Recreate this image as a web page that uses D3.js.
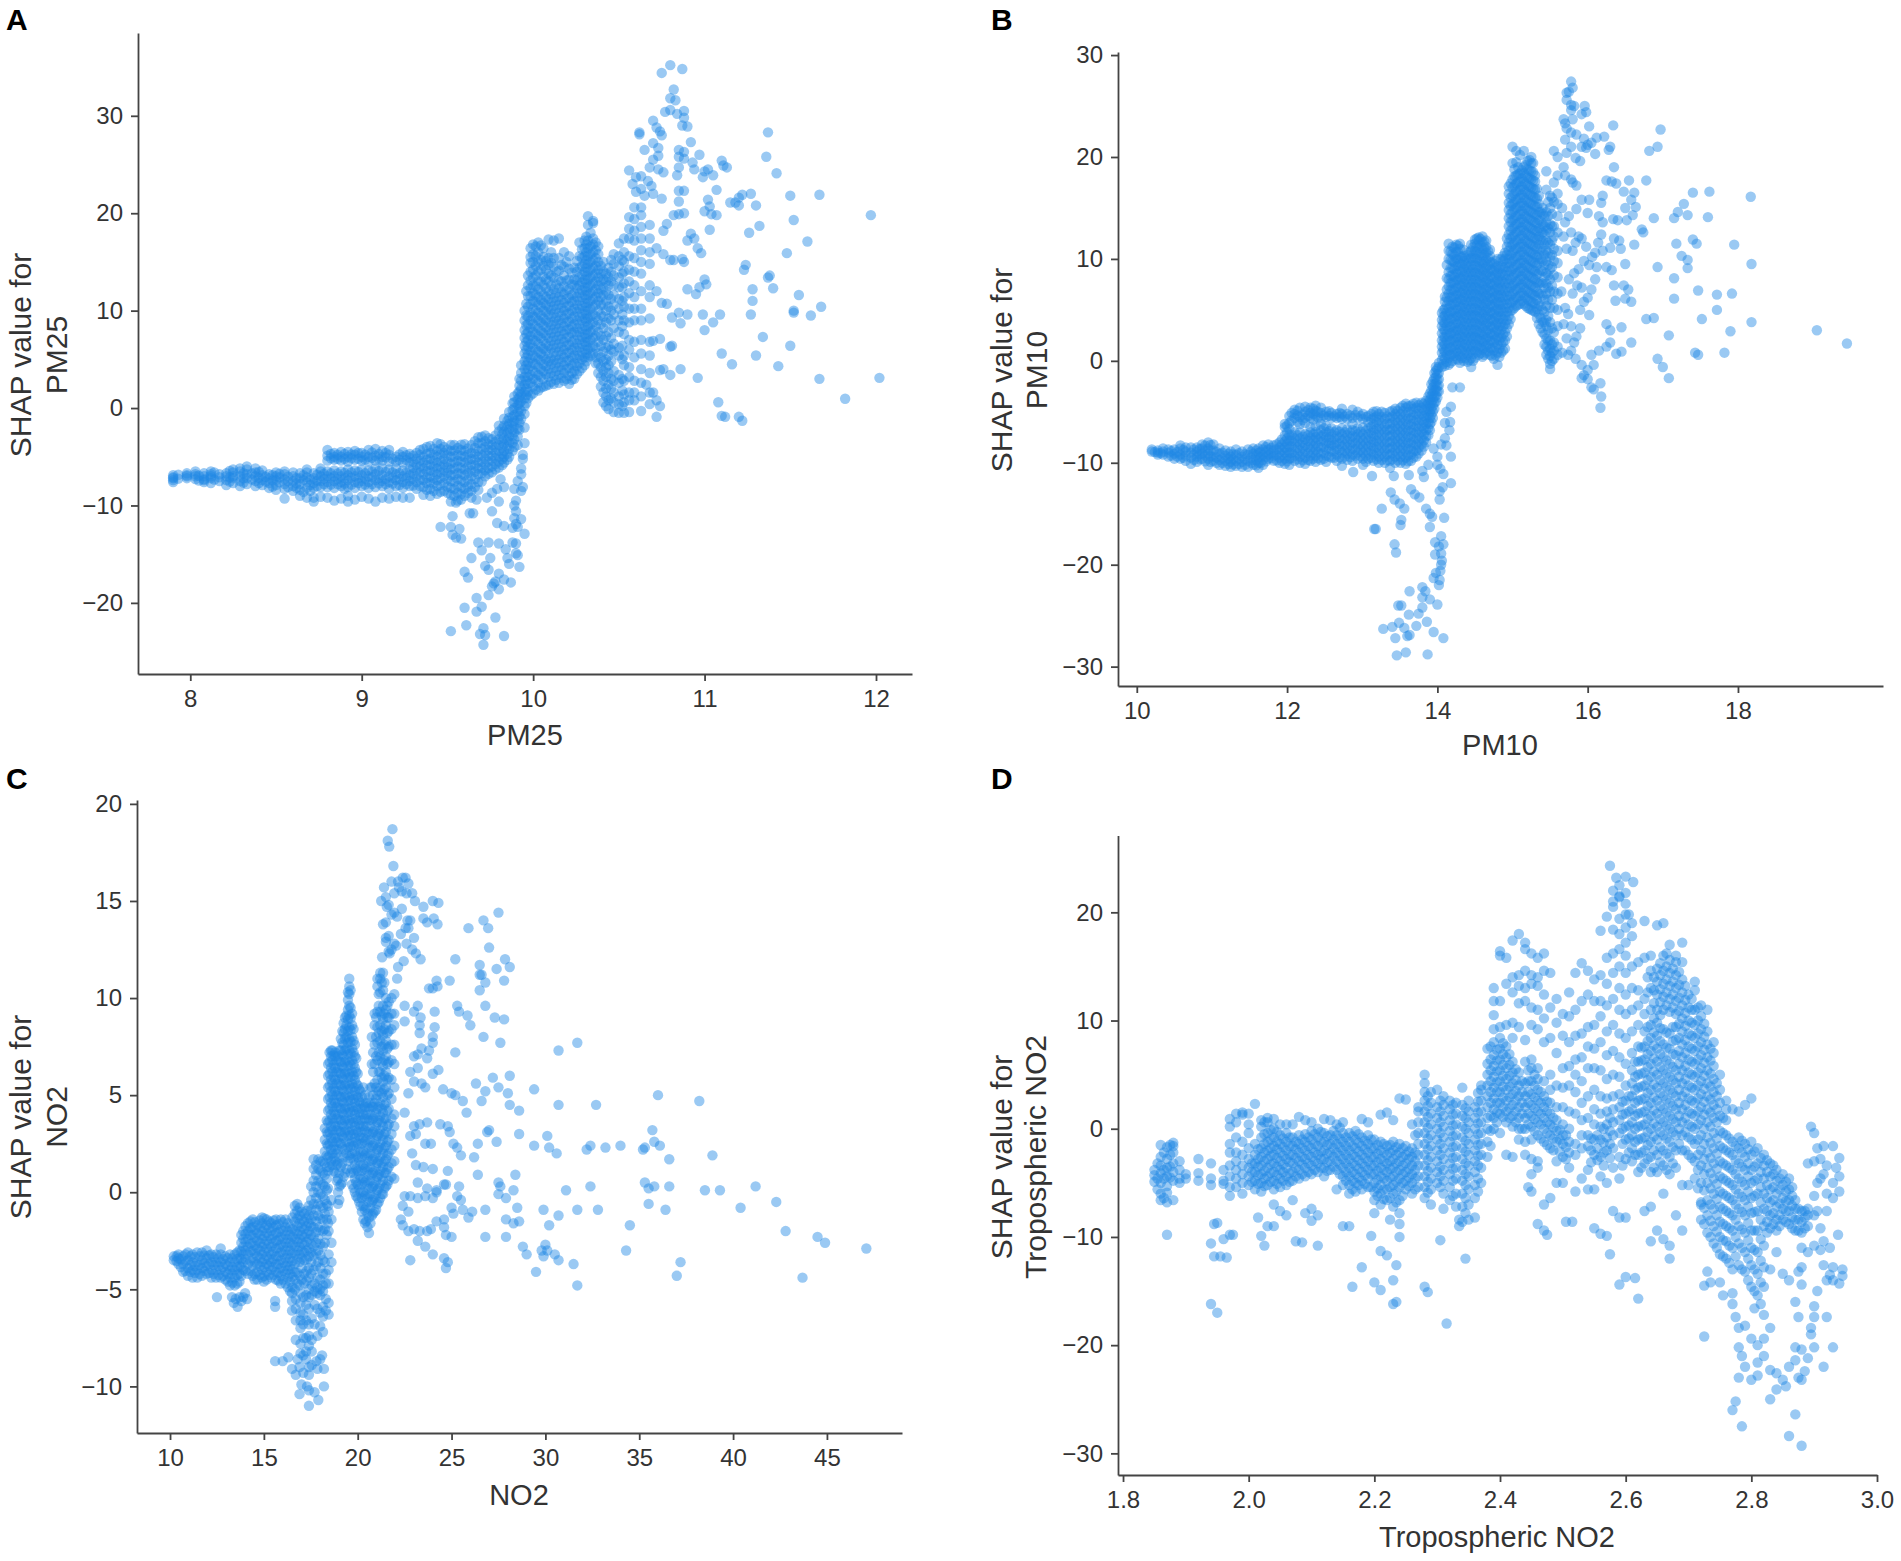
<!DOCTYPE html>
<html>
<head>
<meta charset="utf-8">
<script src="https://cdn.jsdelivr.net/npm/d3@7"></script>
<style>
	html, body { margin: 0; padding: 0; background: #fff; }
	svg { display: block; }
	text { font-family: "Liberation Sans", Arial, sans-serif; fill: #333; }
</style>
</head>
<body>
<svg id="chart" width="1901" height="1561"></svg>
<script>
// every dense row is [x, y, y, y...]

var pm25Dense = [
	[7.9,-7.4,-7.1,-6.9,-7.2,-7.6],[7.98,-7.2,-6.9,-6.7,-7],[8.03,-7.3,-6.8,-7,-6.5],[8.08,-7.6,-7.3,-7,-6.7,-7.4],
	[8.12,-7.7,-7.2,-6.8,-6.5,-7],[8.17,-7.5,-7.1,-6.8],[8.21,-7.9,-7.4,-7,-6.7],[8.25,-7.7,-7.2,-6.6,-6.3,-7],
	[8.29,-8,-7.5,-7,-6.5,-6.2],[8.33,-7.8,-7.2,-6.8,-6.3,-6],[8.38,-8,-7.5,-7,-6.6,-6.2],[8.42,-7.9,-7.4,-6.9,-6.4],
	[8.46,-8.2,-7.7,-7.2,-6.8],[8.5,-8.4,-7.9,-7.4,-7,-6.6],[8.55,-9.3,-8.3,-7.8,-7.3,-6.8,-6.5],[8.6,-8.5,-8,-7.5,-7,-6.6],
	[8.64,-9,-8.4,-7.8,-7.2,-6.7],[8.68,-9.2,-8.2,-7.6,-7.1,-6.6,-6.3],[8.72,-9.6,-9.2,-8.2,-7.7,-7.2,-6.7],[8.76,-9.1,-8.1,-7.5,-7,-6.5,-6.2],
	[8.8,-9.2,-8.1,-7.6,-7,-6.5,-5.4,-4.9,-4.3],[8.84,-9.5,-8.2,-7.5,-7,-6.4,-5.3,-5,-4.6],[8.88,-9.3,-8,-7.6,-7,-6.5,-5.4,-5,-4.5],[8.92,-9.6,-9,-8.1,-7.4,-6.9,-6.3,-5.5,-5,-4.5],
	[8.96,-9.4,-8.2,-7.6,-7,-6.4,-5.3,-4.8,-4.4],[9,-9.1,-8,-7.5,-6.9,-6.3,-5.4,-5,-4.6],[9.04,-9.3,-8.2,-7.6,-7,-6.4,-5.5,-5,-4.3],[9.08,-9.6,-8.1,-7.4,-6.8,-6.2,-5.4,-4.9,-4.2],
	[9.12,-9.2,-8,-7.5,-6.9,-6.2,-5.4,-5,-4.4],[9.16,-9.3,-8.3,-7.6,-7,-6.3,-5.5,-4.8,-4.3],[9.2,-9.1,-8,-7.4,-6.8,-6.2,-5.5,-5],[9.24,-9.2,-8.2,-7.6,-7,-6.4,-5.6,-5,-4.5],
	[9.28,-9.2,-8,-7.5,-6.9,-6.3,-5.6,-5.1,-4.7],[9.32,-8.3,-7.6,-7,-6.4,-5.8,-5.2,-4.6],[9.36,-8.9,-8.1,-7.4,-6.8,-6.2,-5.6,-5,-4.2],[9.4,-9,-8.3,-7.6,-7,-6.4,-5.8,-5.2,-4.6,-3.9],
	[9.44,-8.8,-8,-7.4,-6.8,-6.2,-5.6,-5,-4.4,-3.6],[9.48,-8.5,-7.7,-7,-6.4,-5.8,-5.2,-4.6,-4],[9.52,-9.6,-8.9,-8.2,-7.5,-6.9,-6.3,-5.7,-5,-4.4,-3.8],[9.56,-9.5,-8.7,-8,-7.3,-6.7,-6,-5.4,-4.8,-4.1],
	[9.6,-9,-8.3,-7.6,-6.9,-6.3,-5.6,-5,-4.4,-3.7],[9.64,-9.2,-8.5,-7.8,-7,-6.4,-5.8,-5.2,-4.6,-3.8],[9.68,-8.4,-7.6,-6.8,-6.2,-5.6,-5,-4.4,-3.6,-3],[9.72,-7,-6.4,-5.8,-5.2,-4.6,-4,-3.4,-2.8],
	[9.76,-6.6,-6,-5.4,-4.9,-4.3,-3.8,-3.2],[9.8,-6.1,-5.5,-5,-4.4,-3.8,-3.2,-2.4,-1.8],[9.83,-5.6,-5,-4.4,-3.7,-3.1,-2.4,-1.8,-1.1],[9.86,-5,-4.2,-3.5,-2.9,-2.2,-1.6,-1,-0.4],
	[9.89,-4,-3.2,-2.5,-1.9,-1.3,-0.7,0,0.6,1.2],[9.92,-2.2,-1.5,-0.8,-0.1,0.5,1.1,1.7,2.3,3],[9.95,-0.6,0.2,1,1.7,2.4,3.2,4,4.8,5.6,6.4,7.2,8,9,10],
	[9.97,1,1.7,2.5,3.2,4,4.7,5.5,6.3,7,7.8,8.6,9.4,10.4,11.5,12.6,13.6],[10,1.5,2.2,3,3.8,4.6,5.4,6.2,7,7.8,8.6,9.4,10.2,11,11.8,12.6,13.4,14.2,15,15.8,16.8],
	[10.03,1.8,2.6,3.4,4.2,5,5.8,6.6,7.4,8.2,9,9.8,10.6,11.4,12.2,13,14,15,16,17],[10.06,2.2,3,3.8,4.5,5.3,6.1,6.9,7.7,8.5,9.2,10,10.8,11.6,12.6,13.5,14.6,15.5,16.4],
	[10.09,2.4,3.2,4,4.8,5.6,6.4,7.2,8,8.8,9.6,10.4,11.2,12,13,13.8,14.7,15.4,17.3],[10.12,2.5,3.3,4.1,4.9,5.7,6.5,7.3,8.1,8.9,9.7,10.5,11.3,12.2,13.4,14.5,15.4,17.2],
	[10.15,2.6,3.4,4.2,5,5.8,6.6,7.4,8.2,9,9.8,10.6,11.4,12.3,13.1,14.1,15.4,17.4],[10.18,2.8,3.6,4.4,5.2,6,6.8,7.6,8.4,9.2,10,10.8,11.7,12.5,13.6,14.5,16],
	[10.21,2.5,3.3,4.1,4.9,5.7,6.5,7.3,8.1,8.9,9.7,10.5,11.3,12.2,13.2,14.3,15.6],[10.24,3,3.8,4.6,5.4,6.2,7,7.8,8.6,9.4,10.2,11,11.8,12.6,13.2,14.4],
	[10.27,3.8,4.6,5.4,6.2,7,7.8,8.6,9.4,10.2,11,11.8,12.6,13.4,14.4,15.6,17],[10.3,4.4,5.2,6,6.8,7.6,8.4,9.2,10,10.8,11.6,12.4,13.2,14,14.8,15.6,16.4,17.2],
	[10.32,5.2,6,6.8,7.6,8.4,9.2,10,10.8,11.6,12.4,13.2,14,14.8,15.6,16.4,17.2,18.8,19.7],[10.35,5.6,6.4,7.2,8,8.8,9.6,10.4,11.2,12,12.8,13.6,14.4,15.2,16,16.8,17.4,19,19.2],
	[10.38,3.6,4.6,5.6,6.8,7.8,9,10,11,11.8,12.6,13.4,14.2,15,15.8,16.6],[10.41,0.6,1.6,2.8,3.8,4.8,5.8,7,8.2,9.4,10.6,11.6,12.4,13.2,14,15],
	[10.44,-0.1,0.8,2.4,3.6,4.4,5.4,6.4,7.8,9.2,10.4,11.6,12.6,13.4,14.4],[10.47,-0.4,0.6,1.6,2.8,3.8,5.8,6.6,8.2,9.6,10.6,11.6,12.6,13.6,14.8,15.8],
	[10.5,-0.5,0.4,1.2,2.6,3.4,5.4,6.2,7.8,9,10.2,11.2,12.4,13.4,14.6,15.6,16.9],[10.53,-0.5,0.6,1.4,2.8,4.4,5.4,7.6,9,10.4,11.4,12.8,14,15,16,17.4],
	[10.56,-0.4,0.8,1.6,3.2,4.2,6,7,8.8,10.2,11.8,13,14.2,15.6,17.4,18.4,19.6],[10.59,0.8,1.6,2.8,5.2,6.8,9,10.2,11.4,12.6,14,15.4,17.2,18.2,19.4,20.6],
	[10.63,-0.3,1.2,2.6,4,5.6,7,9,10.2,12,13.8,15,16.2,17.4,18.6,19.8,20.6],[10.68,0.4,1.6,3.6,5.4,6.8,9.2,11.4,12.6,14.8,16,17.4,18.8]
];
// second pass over the solid parts of the cloud, between the rows above
var pm25Fill = [
	[7.93,-7.25,-6.85],[8.05,-7.45,-6.95],[8.14,-7.35,-6.62],[8.23,-7.55,-7.1,-6.45],[8.31,-7.66,-7.22,-6.7],[8.36,-7.33,-6.72],[8.4,-7.7,-7.15,-6.55],[8.44,-7.55,-7.05],[8.48,-8.05,-7.43,-6.9],[8.52,-7.62,-7.12,-6.75],[8.57,-8.1,-7.52,-7.05],[8.62,-8.2,-7.72,-7.2],
	[8.66,-8.6,-7.4,-6.9],[8.7,-8.5,-7.9,-7.32],[8.74,-8.02,-7.45,-6.85],[8.78,-7.8,-7.25,-6.75],[8.82,-7.85,-7.2,-6.7,-5.15,-4.7],[8.86,-7.8,-7.3,-6.72,-5.2,-4.8],[8.9,-8.3,-7.75,-7.2,-6.65,-5.2,-4.7],[8.94,-7.85,-7.15,-6.6,-5.15,-4.75],[8.98,-7.7,-7.22,-6.55,-5.22,-4.62],[9.02,-7.85,-7.25,-6.7,-5.3,-4.8],
	[9.06,-7.8,-7.12,-6.5,-5.1,-4.55],[9.1,-7.72,-7.2,-6.45,-5.25,-4.7],[9.14,-7.8,-7.3,-6.55,-5.05,-4.6],[9.18,-7.75,-7.15,-6.6,-5.2],[9.22,-7.9,-7.28,-6.7,-5.3,-4.75],[9.26,-7.8,-7.2,-6.62,-5.35,-4.85],[9.3,-7.95,-7.3,-6.72,-6.1,-5.5,-4.9],[9.34,-8,-7.35,-6.6,-6,-5.4,-4.8,-4.3],[9.38,-8.4,-7.7,-7.15,-6.5,-5.9,-5.3,-4.7,-4],
	[9.42,-8.5,-7.75,-7.2,-6.55,-6,-5.4,-4.8,-4.2],[9.46,-8.6,-7.9,-7.2,-6.6,-6,-5.45,-4.75,-4.2,-3.7],[9.5,-8.7,-8.05,-7.3,-6.65,-6.1,-5.5,-4.85,-4.25],[9.54,-9,-8.3,-7.55,-6.85,-6.2,-5.55,-4.95,-4.35,-3.8],[9.58,-8.85,-8.15,-7.45,-6.75,-6.15,-5.5,-4.9,-4.3,-3.75],[9.62,-8.7,-8.05,-7.35,-6.65,-6,-5.35,-4.75,-4.15],[9.66,-8.1,-7.3,-6.55,-5.9,-5.3,-4.7,-4.1,-3.4],
	[9.7,-7.55,-6.7,-6.1,-5.5,-4.85,-4.2,-3.6,-2.95],[9.74,-6.75,-6.15,-5.5,-4.9,-4.3,-3.7,-3.1],[9.78,-6.3,-5.75,-5.15,-4.55,-4,-3.45,-2.8],[9.82,-5.85,-5.25,-4.7,-4.05,-3.4,-2.7,-2.1],[9.85,-5.3,-4.7,-3.95,-3.25,-2.55,-1.9,-1.3],[9.88,-4.4,-3.6,-2.9,-2.2,-1.5,-0.9,-0.2,0.5],[9.91,-2.9,-2.1,-1.2,-0.4,0.3,0.9,1.5],[9.93,-1.1,-0.3,0.7,1.4,2,2.8,3.6,4.4],[9.96,0.5,1.35,2,2.8,3.6,4.4,5.2,6,6.8,7.6,8.5,9.5,10.7,12],
	[9.985,1.3,2.6,3.4,4.3,5.1,5.9,6.6,7.4,8.2,9,9.8,10.7,11.5,12.3,13.1,14,14.9,15.5,16.4],[10.015,1.9,2.9,3.6,4.5,5.2,6,6.9,7.6,8.4,9.3,10,10.9,11.6,12.5,13.6,14.6,15.6,16.6],[10.045,2.1,3.2,4,4.9,5.6,6.3,7.2,7.9,8.8,9.5,10.4,11.1,12,13,14.2,15.2,16.7],[10.075,2.3,3.5,4.3,5,5.9,6.6,7.5,8.3,9,9.9,10.6,11.4,12.3,13.2,14.2,15.1],
	[10.105,2.7,3.6,4.5,5.1,6.1,6.9,7.7,8.5,9.4,10.1,10.9,11.7,12.6,13.6,14.9,16],[10.135,2.9,3.8,4.6,5.4,6.2,7,7.8,8.6,9.3,10.2,11,11.8,12.7,14],[10.165,3.1,3.9,4.7,5.5,6.3,7.1,7.9,8.7,9.5,10.3,11.1,11.9,13,14.7],[10.195,3,4,4.8,5.6,6.4,7.2,8,8.8,9.6,10.4,11.2,12.1,13.1,15],
	[10.225,2.9,3.6,4.4,5.2,6,6.8,7.7,8.4,9.2,10,10.9,11.6,12.7,13.9],[10.255,3.5,4.3,5.1,5.9,6.6,7.5,8.2,9,9.9,10.6,11.4,12.3,13.1,14,15.1],[10.285,4.1,5,5.7,6.6,7.3,8.1,9,9.7,10.5,11.4,12.1,12.9,13.7,14.6,15.4,16.3],[10.31,4.8,5.6,6.4,7.2,8,8.9,9.6,10.4,11.2,12,12.8,13.6,14.4,15.2,16,16.8,17.6],[10.335,5.4,6.2,7,7.8,8.6,9.4,10.2,11,11.8,12.6,13.4,14.2,15,15.8,16.6,18],
	[10.365,4.6,5.2,6.2,7.4,8.4,9.4,10.6,11.4,12.2,13,13.8,14.6,15.4,16.2,17],[10.395,2.2,3.2,4.2,5.2,6.4,7.4,8.6,9.6,10.6,11.4,12.2,13,13.8,14.6],[10.425,0.2,1.2,2,3.2,4.2,5,6.2,7.4,8.8,10,11,12,13,13.8],[10.455,1,2,3,4.8,6,7.2,9,10,11.2,13,14,15.2],[10.52,0.2,1.8,3,5,6.4,8.4,9.6,11,12.4,13.8,15.2]
];
var pm25Sparse = [
	[10.8,35.2],[10.75,34.4],[10.87,34.8],[10.82,32.7],[10.8,31.8],[10.83,31.6],[10.77,30.4],[10.8,30.6],[10.84,30.2],[10.88,30.5],[10.87,29],[10.9,28.9],[10.88,29.8],[10.62,28.3],[10.62,28.1],[10.7,29.5],[10.72,28.8],[10.75,28],[10.74,28.4],
	[10.92,27.3],[10.65,26.5],[10.7,27.2],[10.73,26.7],[10.85,26.5],[10.88,26.3],[10.85,25.8],[10.88,25.6],[10.97,26],[10.7,25.5],[10.73,25.9],[10.68,24.7],[10.73,24.5],[10.76,24.2],[10.85,24.7],[10.84,23.9],[10.93,25.2],[10.94,24.5],
	[11,24.3],[11.02,24.5],[10.99,23.7],[11.05,23.9],[11.1,25.4],[11.11,24.9],[11.13,24.7],[11.37,28.3],[11.36,25.8],[11.42,24.1],[10.56,24.4],[10.6,23.7],[10.63,23.8],[10.58,23],[10.6,22.2],[10.63,22.5],[10.67,23.3],[10.69,22.8],[10.7,22],[10.65,21.8],
	[10.75,21.5],[10.85,22.3],[10.88,22.3],[10.85,21.2],[11.07,22.4],[11.02,21.4],[11.03,20.7],[11,20.2],[11.04,19.9],[11.07,19.8],[11.15,21.1],[11.18,21.1],[11.2,21.6],[11.22,21.9],[11.27,22],[11.2,20.8],[11.3,20.8],[11.5,21.8],[11.67,21.9],[11.52,19.3],[11.97,19.8],
	[11.26,18],[11.32,18.7],[11.6,17.1],[11.48,15.9],[11.24,14.7],[11.23,14.2],[11.37,13.4],[11.38,13.6],[11.28,12.2],[11.4,12.3],[11.55,11.6],[11.28,11],[11.27,9.6],[11.52,10],[11.52,9.8],[11.68,10.4],[11.62,9.5],[11.34,7.3],[11.5,6.4],[11.1,5.6],[11.3,5.4],[11.16,4.5],[11.43,4.3],[11.67,3],[12.02,3.1],[11.82,0.95],[11.08,0.6],[11.1,-0.8],[11.12,-0.9],[11.2,-0.9],[11.22,-1.3],
	[10.72,16.4],[10.76,15.8],[10.8,15.2],[10.82,19.8],[10.85,19.9],[10.78,18.9],[10.76,18.2],[10.88,20],[10.92,17.9],[10.9,17.2],[10.94,17.4],[10.96,16.4],[10.98,15.9],[10.88,15],[10.82,15.2],[10.87,15.3],[11.03,18.3],[10.72,12],[10.75,10.8],[10.78,10.7],[10.85,9.8],[10.81,9.3],[10.86,8.7],[10.9,9.6],[10.9,12.2],[10.95,11.7],[10.97,12.4],[11,13.2],[11.01,12.7],[10.99,9.6],[11,8],[11.05,8.8],[11.09,9.6],[10.8,6.3],[10.81,6.4],[10.7,6.9],[10.74,7.1],[10.74,3.9],[10.76,4],[10.86,4],[10.8,3.4],[10.96,3.1],[10.66,2.4],[10.7,1.6],[10.72,0.8],[10.74,0.2],[10.72,-0.9],
	[9.52,-22.9],[9.61,-22.3],[9.6,-20.5],[9.67,-20.9],[9.7,-20.4],[9.67,-19.5],[9.74,-19.2],[9.76,-18.3],[9.8,-18.6],[9.78,-21.5],[9.71,-22.6],[9.69,-23.2],[9.72,-23.3],[9.71,-24.3],[9.83,-23.4],[9.6,-16.8],[9.62,-17.4],[9.57,-12.4],[9.52,-12.2],[9.46,-12.2],[9.53,-11.1],[9.53,-13],[9.55,-13.3],[9.58,-13.4],
	[9.64,-15.4],[9.68,-13.8],[9.7,-14.6],[9.72,-16.2],[9.74,-13.8],[9.75,-15.4],[9.74,-16.6],[9.78,-17.8],[9.77,-18],[9.8,-17],[9.83,-17.6],[9.87,-17.9],[9.8,-13.9],[9.84,-14.5],[9.85,-15.4],[9.86,-16],[9.83,-12.1],[9.79,-11.8],[9.9,-13.9],[9.91,-15.1],[9.92,-16.3],[9.9,-14.9],[9.88,-13.8],
	[9.89,-8.3],[9.9,-9.5],[9.89,-10],[9.9,-10.6],[9.89,-11.3],[9.9,-11.9],[9.88,-12.3],[9.91,-12.2],[9.93,-11.4],[9.95,-12.9],[9.93,-8.5],[9.94,-8.1],[9.93,-6.8],[9.94,-5.2],[9.91,-3.8],[9.95,-3.6],[9.94,-4.8],[9.93,-6.2],[9.95,-2],[9.91,-7.5],[9.83,-8.1],[9.79,-8.3],[9.81,-7.3],[9.76,-8.7],[9.67,-9.4],[9.73,-9.2],[9.76,-10.6],[9.8,-9.6],[9.65,-10.8],[9.63,-10.8],[9.55,-9.7],[9.58,-9.4]
];

var pm10Dense = [
	[10.2,-8.9,-8.7],[10.28,-9,-8.8,-9.2],[10.35,-9.2,-8.9,-8.6],[10.42,-9.4,-9,-8.7],[10.5,-9.6,-9.1,-8.7],[10.58,-9.6,-9.2,-8.6,-8.3],[10.65,-9.8,-9.3,-8.9,-8.5],[10.72,-10.1,-9.5,-9,-8.5],
	[10.8,-9.9,-9.4,-8.9,-8.5],[10.87,-9.6,-9.1,-8.6,-8.2],[10.95,-10.2,-9.6,-9.1,-8.6,-8],[11.02,-9.8,-9.4,-8.8,-8.2],[11.1,-10.2,-9.7,-9.1,-8.6],[11.18,-10.3,-9.8,-9.3,-8.8],[11.25,-10.4,-9.9,-9.4,-8.9],[11.32,-10.3,-9.8,-9.2,-8.7],
	[11.4,-10.4,-9.9,-9.4,-8.9],[11.48,-10.4,-9.8,-9.2,-8.7],[11.55,-10.2,-9.7,-9.1,-8.6],[11.62,-10.5,-10,-9.5,-9,-8.6],[11.68,-10.2,-9.7,-9.2,-8.7,-8.3],[11.75,-9.6,-9.2,-8.7,-8.2],[11.82,-9.8,-9.3,-8.8,-8.3],[11.9,-10,-9.5,-9,-8.5,-8],
	[11.97,-10.1,-9.6,-9,-8.5,-7.9,-7.3,-6.5,-6.2],[12.03,-10.2,-9.6,-9,-8.4,-7.8,-7.3,-6.7,-6.1,-5.4],[12.1,-9.8,-9.3,-8.7,-8.1,-7.6,-7,-5.6,-5.2,-4.8],[12.17,-10,-9.4,-8.8,-8.2,-7.6,-7,-6.2,-5.5,-4.6],
	[12.24,-10.1,-9.5,-8.9,-8.3,-7.7,-7.2,-6.1,-5.6,-5,-4.5],[12.31,-9.8,-9.3,-8.7,-8.1,-7.5,-7,-6.5,-5.6,-5.1,-4.6],[12.38,-9.9,-9.3,-8.7,-8.1,-7.5,-7,-6.4,-5.4,-4.9,-4.4],[12.45,-9.7,-9.1,-8.5,-7.9,-7.4,-6.8,-6.2,-5.6,-5.1,-4.6],
	[12.52,-9.9,-9.3,-8.7,-8.1,-7.5,-7,-6.4,-5.5,-5],[12.59,-9.5,-8.9,-8.3,-7.8,-7.2,-6.6,-5.6,-5.1],[12.66,-9.8,-9.2,-8.6,-8,-7.4,-6.8,-5.6,-5.2],[12.73,-10.3,-9.6,-9,-8.4,-7.8,-7.2,-6.6,-5.7,-5.2,-4.7],
	[12.8,-9.7,-9.1,-8.5,-7.9,-7.3,-6.7,-5.7,-5.2],[12.87,-9.8,-9.2,-8.6,-8,-7.4,-6.8,-6.2,-5.6,-4.8],[12.94,-9.6,-9,-8.4,-7.8,-7.2,-6.6,-5.6,-5],[13.01,-10.2,-9.6,-9,-8.4,-7.8,-7.2,-6.5,-5.7,-5.2],
	[13.08,-9.6,-9,-8.4,-7.8,-7.2,-6.6,-6,-5.4],[13.15,-9.8,-9.2,-8.6,-8,-7.4,-6.8,-6.2,-5.6,-5],[13.22,-10,-9.4,-8.8,-8.2,-7.6,-7,-6.4,-5.8,-5.2],[13.3,-10,-9.4,-8.8,-8.2,-7.6,-7,-6.4,-5.7,-5.1],
	[13.37,-10.5,-9.8,-9.2,-8.6,-8,-7.4,-6.8,-6.2,-5.6,-5],[13.44,-10,-9.4,-8.8,-8.2,-7.6,-7,-6.4,-5.8,-5.2,-4.7],[13.51,-10,-9.4,-8.8,-8.2,-7.6,-7,-6.4,-5.8,-5.2,-4.6],[13.58,-10.1,-9.5,-8.9,-8.3,-7.7,-7.1,-6.5,-5.9,-5.3,-4.6,-4.2],
	[13.65,-9.8,-9.2,-8.6,-8,-7.4,-6.8,-6.2,-5.6,-5,-4.4],[13.72,-9.4,-8.8,-8.2,-7.6,-7,-6.4,-5.8,-5.2,-4.6,-4.1],[13.79,-8.8,-8.2,-7.6,-7,-6.4,-5.8,-5.2,-4.6,-4.1],[13.85,-8,-7.4,-6.8,-6.2,-5.6,-5,-4.4,-3.9],
	[13.9,-6.8,-6.2,-5.6,-5,-4.4,-3.8,-3.2],[13.94,-5.6,-5,-4.4,-3.8,-3.2,-2.6,-2],[13.98,-4,-3.4,-2.8,-2.2,-1.6,-1,-0.6],[14.02,-3,-2.4,-1.8,-1.2,-0.6,-0.2],
	[14.06,-0.6,0.1,0.8,1.4,2,2.7,3.4,4,4.7],[14.1,-0.5,0.2,0.9,1.6,2.3,3,3.7,4.4,5.1,5.8,6.3],[14.15,-0.4,0.3,1,1.7,2.4,3.1,3.8,4.5,5.2,5.9,6.6,7.3,8,8.7,10,10.8,11.5],
	[14.2,0,0.7,1.4,2.1,2.8,3.5,4.2,4.9,5.6,6.3,7,7.7,8.4,9.1,9.8,10.5,11.2],[14.25,0.2,0.9,1.6,2.3,3,3.7,4.4,5.1,5.8,6.5,7.2,7.9,8.6,9.3,10,10.7,11.4],[14.3,-0.2,0.5,1.2,1.9,2.6,3.3,4,4.7,5.4,6.1,6.8,7.5,8.2,8.9,9.6,10.3,11,11.5],
	[14.35,0,0.7,1.4,2.1,2.8,3.5,4.2,4.9,5.6,6.3,7,7.7,8.4,9.1,9.8,10.3,10.9],[14.4,-0.1,0.6,1.3,2,2.7,3.4,4.1,4.8,5.5,6.2,6.9,7.6,8.3,9,9.6,10.4],[14.45,-0.6,0.3,1,1.7,2.4,3.1,3.8,4.5,5.2,5.9,6.6,7.3,8,8.7,9.4,10.1,10.8,11.4],
	[14.5,0.3,1,1.7,2.4,3.1,3.8,4.5,5.2,5.9,6.6,7.3,8,8.7,9.4,10.1,10.8,11.5,11.9],[14.55,0.6,1.3,2,2.7,3.4,4.1,4.8,5.5,6.2,6.9,7.6,8.3,9,9.7,10.4,11.1,11.8,12.1],[14.6,0.4,1.1,1.8,2.5,3.2,3.9,4.6,5.3,6,6.7,7.4,8.1,8.8,9.5,10.2,10.9,11.6,12.2],
	[14.65,0.8,1.5,2.2,2.9,3.6,4.3,5,5.7,6.4,7.1,7.8,8.5,9.2,9.9,10.6,11.2,11.8],[14.7,0.6,1.3,2,2.7,3.4,4.1,4.8,5.5,6.2,6.9,7.6,8.3,9,9.7,10.3,10.9],[14.75,0.2,1,1.8,2.5,3.2,3.9,4.6,5.3,6,6.7,7.4,8.1,8.8,9.5],
	[14.8,-0.4,0.8,1.6,2.3,3,3.7,4.4,5.1,5.8,6.5,7.2,7.9,8.6,9.3,10],[14.85,0.8,1.6,2.3,3,3.7,4.4,5.1,5.8,6.5,7.2,7.9,8.6,9.3,10],[14.9,1.2,2,2.8,3.6,4.4,5.2,6,6.8,7.6,8.4,9.2,10,10.6],
	[14.95,3.6,4.4,5.2,6,6.8,7.6,8.4,9.2,10,10.8,11.6,12.4,13.2,14,14.8,15.5,16.4,17.1],[15,5,5.8,6.6,7.4,8.2,9,9.8,10.6,11.4,12.2,13,13.8,14.6,15.4,16.2,17,17.8,19.4,21],
	[15.05,5.4,6.2,7,7.8,8.6,9.4,10.2,11,11.8,12.6,13.4,14.2,15,15.8,16.6,17.4,18.2,19.5,20.6],[15.1,5.6,6.4,7.2,8,8.8,9.6,10.4,11.2,12,12.8,13.6,14.4,15.2,16,16.8,17.6,18.4,20.2],[15.15,5.6,6.4,7.2,8,8.8,9.6,10.4,11.2,12,12.8,13.6,14.4,15.2,16,16.8,17.6,18.4,19,20.6],
	[15.2,5.2,6,6.8,7.6,8.4,9.2,10,10.8,11.6,12.4,13.2,14,14.8,15.6,16.4,17.2,18,18.8,19.6],[15.25,5,5.8,6.6,7.4,8.2,9,9.8,10.6,11.4,12.2,13,13.8,14.6,15.4,16.2,17,17.8,18.6,19.4,20],[15.3,4.8,5.6,6.4,7.2,8,8.8,9.6,10.4,11.2,12,12.8,13.6,14.4,15.2,16,16.8,17.6,18.2],
	[15.35,3.6,4.6,5.6,6.6,7.6,8.6,9.6,10.4,11.4,12.2,13,13.8,14.6,15.4,16.2],[15.4,2.8,3.8,5,6.4,7.6,8.8,9.8,10.8,11.8,12.6,13.4,14.4,15],[15.45,0.6,1.4,2.2,3.4,4,5.4,6.6,7.6,8.6,9.8,10.8,11.8,12.8,13.6,14.6,16.8,18.6],
	[15.5,-0.8,-0.3,0.5,1.2,2,3.8,5.2,6.8,8,9,10.2,11.4,12.6,13.4,15,16.2],[15.55,0.2,1,1.8,2.8,5.2,6.8,8.4,9.8,11,12.2,13.2,15.6,17.5,20.6],[15.6,0.6,1.4,3.4,5,6.6,8.2,9.6,10.8,12.6,14.2,15.4,16.4,18.2,20]
];
var pm10Fill = [
	[10.24,-8.95],[10.32,-9.05],[10.46,-9.3,-8.85],[10.54,-9.4,-8.95],[10.62,-9.5,-8.75],[10.76,-9.7,-9.2,-8.7],[10.84,-9.65,-9.15,-8.65],[10.91,-9.85,-9.3,-8.8,-8.3],[10.98,-9.9,-9.35,-8.8,-8.25],[11.06,-10,-9.5,-8.95],[11.14,-10,-9.55,-9],[11.22,-10.1,-9.6,-9.1],[11.28,-10.15,-9.65,-9.15],[11.36,-10.1,-9.6,-9.05],[11.44,-10.2,-9.65,-9.15],[11.52,-10,-9.5,-8.9],[11.59,-10.25,-9.75,-9.25,-8.8],[11.65,-10,-9.45,-8.95],[11.72,-9.85,-9.4,-8.9,-8.45],[11.79,-9.55,-9.05,-8.55],[11.86,-9.75,-9.25,-8.7,-8.2],[11.93,-9.8,-9.25,-8.75,-8.2,-7.7],
	[12,-9.85,-9.3,-8.7,-8.15,-7.6,-7,-6.35],[12.06,-9.55,-9,-8.4,-7.85,-7.25,-5.85,-5.1],[12.14,-9.65,-9.05,-8.5,-7.9,-7.3,-6,-5.35,-4.9],[12.21,-9.75,-9.15,-8.55,-8,-7.45,-5.8,-5.25],[12.28,-9.7,-9.05,-8.45,-7.85,-7.3,-5.4,-4.85],[12.35,-9.6,-9,-8.4,-7.8,-7.2,-5.75,-5.2,-4.7],[12.41,-9.55,-8.95,-8.35,-7.7,-7.15,-5.55,-5],[12.49,-9.6,-9,-8.4,-7.75,-7.2,-6.6,-5.35],[12.56,-9.4,-8.6,-8.05,-7.5,-6.9,-5.4,-4.95],[12.63,-9.5,-8.85,-8.25,-7.65,-7,-5.45],[12.7,-9.45,-8.75,-8.15,-7.55,-6.95,-5.5,-5.1],[12.77,-9.4,-8.8,-8.2,-7.6,-7,-5.45],[12.84,-9.45,-8.85,-8.25,-7.65,-7.05,-5.35],[12.91,-9.3,-8.7,-8.1,-7.5,-6.9,-5.3],[12.98,-9.35,-8.75,-8.15,-7.5,-6.95,-5.4],[13.05,-9.9,-9.3,-8.7,-8.1,-7.5,-6.85,-5.5],[13.12,-9.5,-8.85,-8.25,-7.65,-7.05,-6.45,-5.75,-5.2],
	[13.19,-9.65,-9.05,-8.45,-7.85,-7.25,-6.65,-6,-5.45,-4.95],[13.26,-9.7,-9.1,-8.5,-7.9,-7.3,-6.7,-6.1,-5.5,-5],[13.33,-9.75,-9.15,-8.55,-7.95,-7.3,-6.75,-6.15,-5.45],[13.4,-9.65,-9.05,-8.45,-7.85,-7.25,-6.65,-6.05,-5.45,-4.9],[13.47,-9.75,-9.1,-8.5,-7.9,-7.3,-6.7,-6.1,-5.5,-4.9],[13.54,-9.75,-9.15,-8.55,-7.95,-7.35,-6.75,-6.15,-5.55,-4.95,-4.4],[13.61,-9.85,-9.25,-8.65,-8.05,-7.45,-6.85,-6.25,-5.65,-5.05,-4.45],[13.68,-9.5,-8.9,-8.3,-7.7,-7.1,-6.5,-5.9,-5.3,-4.7,-4.2],[13.75,-9.1,-8.5,-7.9,-7.3,-6.7,-6.1,-5.5,-4.9,-4.35],[13.82,-8.4,-7.8,-7.2,-6.6,-6,-5.4,-4.8,-4.2],[13.88,-7.3,-6.6,-6,-5.3,-4.7,-4.1,-3.5],[13.92,-6,-5.3,-4.7,-4.1,-3.5,-2.9,-2.3],[13.96,-4.7,-4.1,-3.5,-2.9,-2.3,-1.7,-1.2],[14,-3.6,-3,-2.5,-1.9,-1.3,-0.8],
	[14.08,-0.3,0.4,1.1,1.75,2.35,3.1,3.75,4.35,5],[14.125,-0.1,0.6,1.25,2,2.65,3.4,4.05,4.75,5.45,6.2,7,8.1,9.4],[14.175,-0.2,0.55,1.3,2,2.7,3.35,4.15,4.8,5.5,6.25,7,7.65,8.35,9.1,9.9,10.7],[14.225,0.5,1.15,1.9,2.6,3.25,4.05,4.7,5.5,6.15,6.85,7.6,8.25,9,9.7,10.35,11.1],[14.275,0.1,0.75,1.55,2.2,2.95,3.6,4.35,5,5.75,6.45,7.15,7.9,8.55,9.3,9.95,10.65,11.3],[14.325,0.3,1,1.7,2.35,3.1,3.85,4.55,5.25,5.95,6.65,7.35,8.05,8.75,9.45,10.15],[14.375,0.25,0.95,1.65,2.4,3.05,3.8,4.5,5.2,5.9,6.6,7.3,8,8.7,9.4,10.05],[14.425,0.05,0.8,1.5,2.25,2.95,3.65,4.4,5.05,5.8,6.5,7.2,7.9,8.6,9.25,10,10.65],
	[14.475,0,0.7,1.4,2.1,2.75,3.5,4.2,4.85,5.6,6.3,7,7.65,8.35,9.05,9.8,10.45,11.15],[14.525,0.85,1.55,2.25,2.95,3.65,4.4,5.05,5.75,6.5,7.2,7.9,8.6,9.3,10,10.7,11.35,12],[14.575,0.75,1.45,2.15,2.85,3.6,4.3,5,5.7,6.4,7.05,7.8,8.5,9.2,9.85,10.6,11.3,11.95],[14.625,0.6,1.3,2,2.65,3.4,4.1,4.8,5.5,6.2,6.95,7.6,8.3,9,9.7,10.4,11.05,11.7],[14.675,0.95,1.65,2.35,3.05,3.8,4.5,5.2,5.9,6.6,7.3,8,8.7,9.4,10.1,10.75],[14.725,0.5,1.2,1.95,2.65,3.35,4.05,4.75,5.45,6.15,6.85,7.55,8.25,8.95,9.65],[14.775,0.55,1.35,2.1,2.85,3.55,4.25,4.95,5.65,6.35,7.05,7.75,8.45,9.15,9.8],[14.825,0.4,1.2,2,2.7,3.4,4.1,4.8,5.5,6.2,6.9,7.6,8.3,9],[14.875,1,1.85,2.6,3.4,4.1,4.85,5.55,6.25,6.95,7.75,8.45,9.15,9.8,10.3],[14.925,2.4,3.2,4,4.8,5.6,6.4,7.2,8,8.8,9.6,10.4,11.2,12],
	[14.975,4.1,4.9,5.7,6.4,7.2,8,8.8,9.65,10.4,11.2,12,12.8,13.65,14.4,15.2,16,17.4],[15.025,5.2,6,6.85,7.6,8.45,9.2,10,10.85,11.6,12.4,13.2,14,14.85,15.6,16.4,17.2,18.1,18.8],[15.075,5.5,6.3,7.15,7.9,8.7,9.5,10.3,11.1,11.9,12.75,13.5,14.3,15.1,15.9,16.7,17.55,18.3,19],[15.125,5.9,6.65,7.5,8.3,9.1,9.85,10.7,11.5,12.3,13.1,13.9,14.7,15.5,16.3,17.1,17.9,18.7],[15.175,5.4,6.2,7,7.8,8.6,9.4,10.2,11,11.8,12.6,13.4,14.2,15,15.8,16.6,17.4,18.2,19.2],[15.225,5.1,5.9,6.7,7.5,8.3,9.1,9.9,10.7,11.5,12.3,13.1,13.9,14.7,15.5,16.3,17.1,17.9,18.7,19.7],[15.275,4.9,5.7,6.5,7.3,8.1,8.9,9.7,10.5,11.3,12.1,12.9,13.7,14.5,15.3,16.1,16.9,17.7,18.5,19.4],[15.325,4.2,5.1,6,6.8,7.7,8.5,9.4,10.2,11,11.9,12.7,13.5,14.3,15.1,15.9,16.9],[15.375,3.2,4.2,5.4,6.6,7.7,8.9,10,11,11.9,12.8,13.7,14.6],[15.425,1.6,2.6,3.8,4.8,6,7.2,8.2,9.4,10.4,11.4,12.4,13.2,14.2],[15.475,0.2,1,2,3,4.4,6,7.2,8.4,9.4,10.6,11.6,13,14.2,15.6],[15.525,0,0.8,1.6,3.2,6,7.4,9.2,10.4,11.8,13.2,14.4,16]
];
var pm10Sparse = [
	[15.78,27.4],[15.72,26.3],[15.75,26.4],[15.8,26.8],[15.72,25.6],[15.78,25.1],[15.82,25],[15.78,24.6],[15.96,25],[15.98,24.4],[15.92,24.2],[15.68,23.7],[15.7,23.3],[15.8,23.7],[16.02,23],[15.72,22.8],[15.78,22.4],[15.85,22.2],[15.95,21.8],[16,21.2],[15.92,21],[15.98,20.9],[16.05,21.4],[16.12,21.9],[16.22,22],[16.34,23.1],[16.3,21],[15.7,21.7],[15.78,21],[15.72,20.4],
	[16.97,22.7],[16.93,21],[16.82,20.6],[16.28,20.7],[16.1,20.3],[15.84,19.9],[15.9,19.6],[15.68,19],[15.7,18.2],[15.78,17.8],[15.8,17.5],[15.85,17.2],[16.35,19],[16.25,17.7],[16.32,17.6],[16.38,17.4],[16.55,17.7],[16.78,17.7],[16.48,16.6],[16.62,16.5],[16.58,15.8],[16.2,16.2],[16.18,15.5],[16.02,15.8],[15.92,15.8],[15.85,14.9],[16,14.5],[16.15,14.2],[16.2,13.6],[16.34,13.9],[16.4,13.8],[16.52,13.8],[16.5,15],[16.64,15.1],[16.6,14.3],[16.88,14],
	[16.72,12.9],[16.74,12.6],[16.62,11.4],[16.35,12],[16.42,11.8],[16.3,11.1],[16.44,11],[16.2,10.8],[16.12,9.2],[16.25,9.2],[16.32,8.9],[16.5,9.5],[16.48,7.4],[16.54,7],[16.5,6.1],[16.58,5.8],[16.35,7.4],[16.37,5.9],[16.1,8],[16.05,7],[16,6.2],[15.9,5],[16.02,4.5],[16.25,3.6],[16.3,3],[16.45,3.3],[16.58,1.8],[16.25,1.4],[16.3,1.8],[16.38,0.7],[16.45,0.9],[16.15,1],[16.05,0.6],[16.08,-0.4],[16,-0.9],[15.92,-0.4],[15.95,-1.4],[15.92,-1.7],[16,-1.8],[16.05,-2.6],[16.17,-2.2],[16.18,-3.5],[16.17,-4.6],[16.08,-2.8],[15.78,1],[15.85,2.4],[15.9,3.2],[15.82,1.8],
	[17.4,16.5],[17.28,15.4],[17.62,16.6],[18.17,16.1],[17.6,14.1],[17.15,14],[17.2,14.6],[17.33,14.3],[17.18,11.5],[17.4,11.9],[17.45,11.5],[17.95,11.4],[17.25,10.3],[17.33,9.9],[17.33,9.1],[18.18,9.5],[16.93,9.2],[17.15,8.1],[17.15,6.1],[17.47,6.9],[17.72,6.5],[17.92,6.6],[17.72,5],[17.52,4.1],[16.78,4.1],[16.88,4.2],[17.9,2.9],[18.18,3.8],[17.08,2.5],[19.05,3],[19.45,1.7],[17.43,0.8],[17.47,0.6],[17.82,0.8],[16.93,0.2],[17,-0.6],[17.08,-1.7],
	[15.66,15],[15.7,13.6],[15.75,14.2],[15.68,12.2],[15.72,11],[15.78,12.6],[15.8,10.8],[15.84,11.6],[15.88,12.2],[15.92,12],[15.98,11.2],[15.95,9.8],[16.02,9.4],[16.06,10.2],[16.1,10.6],[16.14,11.6],[16.18,12.4],[15.82,8.6],[15.88,9],[15.75,8],[15.8,6.6],[15.86,7.4],[15.92,7.2],[15.95,5.8],[15.7,5.2],[15.65,6.8],[15.68,3.6],[15.74,4.6],[15.78,3.4],[15.72,2.2],[15.66,0.8],[15.74,0.6],[15.84,0.2],
	[13.95,-8.6],[14,-9.4],[14.12,-8.3],[14.16,-6.8],[14.1,-6.1],[14.17,-6],[14.12,-5],[14.18,-4.5],[14.2,-2.6],[14.3,-2.6],[14.1,-7.6],[14.05,-8.2],[14.18,-9.4],[14,-10.2],[14.04,-10.6],[14.08,-11.1],[13.88,-10.2],[13.8,-10.8],[13.62,-11.2],[13.82,-11.4],[13.42,-11.3],[13.13,-11.3],[12.88,-10.9],[14.18,-12],[14.03,-12.8],[14.07,-12.4],[14.03,-13.6],
	[13.38,-12.9],[13.43,-13.6],[13.5,-14],[13.56,-14.5],[13.26,-14.5],[13.65,-12.6],[13.7,-13.1],[13.76,-13.4],[13.85,-14.5],[13.9,-15],[13.93,-15.3],[14.09,-15.4],[13.52,-15.6],[13.51,-16.1],[13.16,-16.5],[13.18,-16.5],[13.9,-16.3],[14.05,-17.2],[14.08,-18],[13.97,-17.8],[14.02,-18.2],[13.43,-18],[13.45,-18.8],[13.97,-19],[14.05,-18.9],[14.06,-19.6],[14.05,-20],[14.04,-20.6],[13.98,-20.8],[13.95,-21.3],[14.02,-22],[14.03,-21.5],
	[13.8,-22.2],[13.84,-22.6],[13.8,-23.2],[13.9,-23.4],[14,-23.9],[13.63,-22.6],[13.48,-24],[13.52,-24],[13.62,-24.9],[13.75,-24.8],[13.8,-24.2],[13.28,-26.3],[13.4,-26.1],[13.49,-25.7],[13.56,-26.2],[13.72,-26],[13.86,-25.6],[13.6,-27],[13.63,-26.9],[13.44,-27.2],[13.95,-26.6],[14.08,-27.2],[13.46,-28.9],[13.58,-28.6],[13.87,-28.8]
];

var no2Dense = [
	[10.2,-3.5,-3.3],[10.45,-3.7,-3.4,-3.2],[10.7,-4.1,-3.7,-3.3],[10.95,-4.3,-3.9,-3.5,-3.1],[11.2,-4.4,-4,-3.6,-3.2],[11.45,-4.4,-4,-3.6,-3.1],[11.7,-4.3,-3.9,-3.5,-3.1],[11.95,-4.2,-3.8,-3.4,-3],[12.2,-4.4,-4,-3.6,-3.2],[12.45,-4.4,-4,-3.6,-3.2],[12.7,-4.4,-4,-3.6,-3.2,-2.9],
	[12.95,-4.5,-4.1,-3.7,-3.3],[13.2,-4.8,-4.4,-4,-3.6,-3.2],[13.45,-4.8,-4.4,-4,-3.6,-3.2],[13.7,-4.6,-4.2,-3.8,-3.4,-3],[13.9,-4,-3.6,-3.2,-2.8,-2.4,-2],[14.15,-4.2,-3.7,-3.2,-2.8,-2.4,-2,-1.6],[14.4,-4.3,-3.8,-3.4,-3,-2.6,-2.2,-1.8,-1.4],[14.65,-4.5,-4.1,-3.7,-3.3,-2.9,-2.5,-2.1,-1.7],
	[14.9,-4.4,-4,-3.6,-3.2,-2.8,-2.4,-2,-1.6,-1.3],[15.15,-4.5,-4.1,-3.7,-3.3,-2.9,-2.5,-2.1,-1.7,-1.4],[15.4,-4.4,-4,-3.6,-3.2,-2.8,-2.4,-2,-1.6],[15.65,-4.5,-4.1,-3.7,-3.3,-2.9,-2.5,-2.1,-1.7,-1.4],[15.9,-4.7,-4.3,-3.9,-3.5,-3.1,-2.7,-2.3,-1.9,-1.4],
	[16.15,-4.7,-4.2,-3.8,-3.4,-3,-2.6,-2.2,-1.8,-1.4],[16.4,-5.1,-4.6,-4.2,-3.8,-3.4,-3,-2.6,-2.2,-1.8],[16.65,-5,-4.5,-4.1,-3.7,-3.2,-2.8,-2.4,-2,-1.5,-1.1,-0.7],[16.9,-4.8,-4.3,-3.6,-3.2,-2.8,-2.4,-2,-1.6,-1.2,-0.8],[17.15,-4.7,-4.2,-3.5,-3.1,-2.7,-2.3,-1.9,-1.5,-1.1],
	[17.4,-4.4,-3.9,-3.3,-2.9,-2.4,-2,-1.6,-1.2,-0.7],[17.65,-4,-3.3,-2.8,-2.3,-1.8,-1.2,-0.6,0,0.6,1.2,1.7],[17.9,-3.6,-3,-2.4,-1.8,-1.2,-0.6,0,0.6,1.2,1.7],[18.15,-4.2,-3.5,-2.8,-2,-1.4,-0.8,-0.2,0.4,1,1.6],[18.35,-2.2,-1.4,-0.6,0.1,0.7,1.3,1.9,2.5,3.1,3.7],
	[18.5,1.3,1.9,2.5,3.1,3.7,4.3,4.9,5.5,6.1,6.7,7.2],[18.65,1.4,2,2.6,3.2,3.8,4.4,5,5.6,6.2,6.8,7.3],[18.8,1,1.6,2.2,2.8,3.4,4,4.6,5.2,5.8,6.4,7,7.2],[18.95,-0.6,0,0.7,1.5,2.2,2.8,3.4,4,4.6,5.2,5.8,6.4,7],[19.1,0.4,1.3,2.5,3.1,3.7,4.3,4.9,5.5,6.1,6.7,7.3,7.9],
	[19.25,0.8,1.8,2.8,3.4,4,4.6,5.2,5.8,6.4,7,7.6,8.2,8.7],[19.4,1.2,2,2.6,3.2,3.8,4.4,5,5.6,6.2,6.8,7.4,8,8.6,9.1],[19.55,1.9,2.5,3.1,3.7,4.3,4.9,5.5,6.1,6.7,7.3,7.9,8.5,9.1,9.6,10.2,10.6,11],[19.7,0.4,1.2,2,2.6,3.2,3.8,4.4,5,5.6,6.2,6.8,7.4,8,8.6,9.2],
	[19.85,0,0.7,1.4,2.1,2.8,3.4,4,4.6,5.2,5.8,6.4,7,7.6],[20,-0.3,0.4,1.1,1.8,2.5,3.1,3.7,4.3,4.9,5.5,6.1],[20.15,-0.7,0,0.7,1.4,2.1,2.8,3.4,4,4.6,5.2],[20.3,-1.4,-0.7,0,0.7,1.4,2.1,2.8,3.4,4,4.5,5.4],[20.45,-1.5,-0.8,-0.1,0.6,1.3,2,2.7,3.4,4,4.6],
	[20.6,-2.1,-1.3,-0.5,0.2,0.9,1.6,2.3,3,3.7,4.3,4.9],[20.75,-1.2,-0.5,0.2,0.9,1.6,2.3,3,3.7,4.4,5.4,6.6,8],[20.9,-1,-0.3,0.4,1.1,1.8,2.5,3.2,3.9,4.6,5.6,6.6,7.6,8.6,9.2],[21.05,-0.6,0.1,0.8,1.5,2.2,2.9,3.6,4.3,5,5.8,6.8,7.7,8.5,9.3,10.6,11],
	[21.2,-0.3,0.4,1.1,1.8,2.5,3.2,3.9,4.6,5.4,6.2,7,7.8,8.6,9.3,10.3,11,11.3],[21.35,-0.1,0.6,1.3,2,2.7,3.4,4.1,4.9,5.7,6.5,7.3,8.1,8.9,9.6,10.4,11.3,13.8],[21.5,0.3,1,1.7,2.4,3.1,3.8,4.6,5.4,6.2,7,7.8,8.6,9.4,10,13.1,13.9,15.2],
	[21.65,0.6,1.3,2,2.7,3.5,4.3,5.1,5.9,6.7,7.5,8.3,9,9.8,12.4,13.2,14.8],[21.8,0.8,1.5,2.2,3,3.8,4.8,5.8,6.8,7.6,8.4,9.2,10,12.5,14.3,16],[21.95,0.7,1.6,2.4,3.4,4,5.4,6.6,7.6,8.6,9.2,10.2,12.8,14.4,15.4]
];
var no2Fill = [
	[10.35,-3.55,-3.3],[10.58,-3.85,-3.45],[10.82,-4.05,-3.55,-3.2],[11.08,-4.1,-3.75,-3.3],[11.32,-4.15,-3.8,-3.35],[11.58,-4.2,-3.75,-3.3],[11.82,-4.05,-3.65,-3.25],[12.08,-4.15,-3.7,-3.25],[12.32,-4.2,-3.75,-3.35],[12.58,-4.25,-3.8,-3.4],[12.82,-4.3,-3.85,-3.45],[13.08,-4.6,-4.2,-3.8,-3.4],[13.32,-4.65,-4.2,-3.85,-3.4],[13.58,-4.7,-4.25,-3.85,-3.45,-3.1],[13.8,-4.3,-3.85,-3.45,-3.05,-2.6,-2.2],
	[14.02,-4.05,-3.45,-3,-2.55,-2.15,-1.75],[14.28,-4.05,-3.55,-3.05,-2.65,-2.2,-1.85,-1.5],[14.52,-4.2,-3.6,-3.15,-2.75,-2.35,-1.95,-1.55],[14.78,-4.25,-3.8,-3.4,-3,-2.6,-2.2,-1.8,-1.45],[15.02,-4.3,-3.85,-3.45,-3.05,-2.65,-2.25,-1.85,-1.35],[15.28,-4.25,-3.8,-3.45,-3.05,-2.65,-2.25,-1.85,-1.5],[15.52,-4.25,-3.85,-3.45,-3.05,-2.6,-2.2,-1.8,-1.45],[15.78,-4.55,-4.15,-3.7,-3.3,-2.85,-2.45,-2.05,-1.65],[16.02,-4.5,-4.05,-3.65,-3.2,-2.8,-2.4,-2,-1.55],[16.28,-4.9,-4.4,-4,-3.6,-3.2,-2.8,-2.4,-2,-1.6],[16.52,-4.9,-4.35,-3.95,-3.55,-3.15,-2.7,-2.3,-1.9,-1.3],[16.78,-4.7,-4.15,-3.45,-3,-2.55,-2.15,-1.75,-1.35,-0.95,-0.6],[17.02,-4.5,-3.9,-3.4,-3,-2.6,-2.2,-1.8,-1.4,-1],[17.28,-4.55,-4.05,-3.45,-3,-2.55,-2.15,-1.75,-1.35,-0.95],[17.52,-4.2,-3.6,-3.1,-2.65,-2.2,-1.75,-1.4,-0.9,-0.4,0.3],[17.78,-3.8,-3.15,-2.6,-2.05,-1.5,-0.9,-0.3,0.3,0.9,1.4],[18.02,-3.9,-3.25,-2.65,-1.95,-1.35,-0.7,-0.1,0.5,1.1,1.6],[18.25,-3.6,-2.6,-1.9,-1.1,-0.4,0.3,0.9,1.5,2.1,2.7,3.3],[18.42,-1.6,-0.7,0.2,1.1,1.8,2.4,3,3.6,4.2,4.8,5.4,6,6.6],
	[18.58,1.6,2.2,2.8,3.4,4,4.6,5.2,5.8,6.4,7,7.3],[18.72,1.1,1.75,2.35,2.95,3.55,4.15,4.75,5.35,5.95,6.55,7.05],[18.88,0.6,1.4,2,2.6,3.2,3.8,4.4,5,5.6,6.2,6.8],[19.02,-0.4,0.3,1,1.8,2.55,3.15,3.75,4.35,4.95,5.55,6.15,6.75,7.3],[19.18,0.5,1.5,2.3,2.9,3.5,4.1,4.7,5.3,5.9,6.5,7.1,7.7,8.3],[19.32,1,2.2,3.1,3.7,4.3,4.9,5.5,6.1,6.7,7.3,7.9,8.4,9],[19.48,1.6,2.3,2.9,3.5,4.1,4.7,5.3,5.9,6.5,7.1,7.7,8.3,8.9,9.4,9.9,10.3],[19.62,1,1.75,2.35,2.95,3.55,4.15,4.75,5.35,5.95,6.55,7.15,7.75,8.35,8.95,9.5,10.4],[19.78,0.2,1,1.7,2.4,3,3.6,4.2,4.8,5.4,6,6.6,7.2,7.8,8.4],[19.92,-0.2,0.5,1.2,1.9,2.6,3.2,3.8,4.4,5,5.6,6.2,6.9],[20.08,-0.5,0.2,0.9,1.6,2.3,2.9,3.5,4.1,4.7,5.3],[20.22,-1,-0.3,0.4,1.1,1.8,2.5,3.1,3.7,4.3,4.9],[20.38,-1.6,-0.9,-0.2,0.5,1.2,1.9,2.6,3.2,3.8,4.4,5],[20.52,-1.8,-1.1,-0.3,0.4,1.1,1.8,2.5,3.1,3.8,4.4],[20.68,-1.6,-0.8,-0.1,0.6,1.3,2,2.7,3.4,4,4.6,5.4],[20.82,-1.1,-0.4,0.3,1,1.7,2.4,3.1,3.8,4.4,5,6.2,7.2],
	[20.98,-0.9,-0.1,0.6,1.3,2,2.7,3.4,4.1,4.8,5.4,7,8,9],[21.12,-0.5,0.2,0.9,1.6,2.3,3,3.7,4.4,5.2,6.2,7.2,8.2,9.6,10.2],[21.28,-0.1,0.8,1.5,2.2,2.9,3.6,4.3,5.1,5.9,6.7,7.5,8.3,9.1,10.8],[21.42,0.2,1,1.6,2.3,3,3.8,4.5,5.3,6,6.8,7.6,8.4,9.2,10.8],[21.58,0.4,1.2,1.9,2.6,3.4,4.2,5,5.8,6.6,7.4,8.2,9,9.6]
];
var no2Lower = [
	[16.5,-5.2,-5.6,-6.1],[16.7,-5.5,-6,-6.6,-7.6],[16.95,-5.2,-5.7,-6.2,-6.6,-7,-7.8,-8.3],[17.1,-5.4,-6.3,-6.8,-7.5,-8.4],[17.25,-5.3,-5.8,-6.6,-7.5,-8.2,-8.6],[17.4,-5,-5.4,-6,-6.8,-7.4,-7.9,-9.4,-10.2],[17.55,-4.8,-5.3,-6.5,-7.6,-8.2,-8.9],[17.7,-4.7,-5.1,-5.8,-6.8],[17.85,-4.4,-4.9,-5.2,-6,-7.4,-9.1],[18,-4.5,-5,-5.3,-6.2,-6.9,-8.6],[18.15,-4.8,-5.1,-5.9,-6.4,-7.2],[18.3,-4.2,-4.7,-5.5,-6.1],[18.45,-1,-2,-3.2,-4,-4.7,-5.7,-6.3],[18.6,-0.4,-1.4,-2.6,-3.6]
];
var no2Sparse = [
	[21.85,18.7],[21.6,18.1],[21.68,17.8],[21.9,16.8],[22.15,16],[22.4,16.2],[22.55,16.2],[22.7,15.9],[21.4,15.7],[21.25,15],[22.2,15.7],[22.35,15.5],[22.6,15.4],[22.9,15.4],[23.05,15],[24,15],[24.3,14.9],[21.55,14.7],[22.35,14.6],[22.1,14.2],[23.5,14.7],[23.5,14.1],[23.7,13.9],[24.05,14.1],[24.25,13.8],[22.65,14],[22.8,14],[22.55,13.6],[22.7,13.6],[23,13.1],[22.3,13.3],[21.5,12.9],[21.7,12.3],[22.05,12.7],[22.6,12.8],[22.9,12.5],[23.1,12.3],[23.35,12],[21.3,12.1],[22.15,11.6],[22.45,11.9],[22.1,11],[23.8,10.5],[24,10.5],[24.25,10.6],[24.2,10.9],[24.9,10.9],[25.2,12],
	[25.9,13.6],[26.7,14],[26.95,13.6],[27.5,14.4],[27,12.6],[26.5,11.7],[26.5,11.2],[26.6,11.2],[27.4,11.5],[27.85,12],[28.1,11.6],[27.8,10.9],[26.8,10.8],[26.5,10.4],[26.8,9.6],[27.3,9],[27.8,8.9],[26.7,8],[27.6,7.7],[25.3,9.6],[25.4,9.3],[25.85,9.1],[26,8.6],[25.2,7.2],[30.7,7.3],[31.7,7.7],
	[22.5,9.6],[22.5,8.8],[23,9.3],[23.2,9.6],[23.35,9],[23.3,8.6],[23.3,8.2],[24.1,9.3],[24.1,8.5],[24,8],[24,7.7],[23.8,7.3],[23.4,7.4],[23.2,7.1],[23,7],[23.7,6.9],[22.8,6.2],[23.2,6.4],[24,6.1],[24.3,6.3],[23.4,5.6],[23,5.7],[22.7,5.1],[23.6,5.4],[24.55,5.3],[25,5.1],[25.2,5],[26.3,5.6],[27.2,5.9],[28.1,6],[27.5,5.4],[28,5.1],[26.8,5.2],[26.6,4.7],[25.6,4.7],[25.8,4.1],[28.1,4.5],[28.6,4.2],[29.4,5.3],[30.7,4.5],[32.7,4.5],[36,5],[38.2,4.7],
	[22.5,4.1],[23,3.4],[23.3,3.5],[23.7,3.6],[24.4,3.5],[24.8,3.4],[24.9,3.1],[23.1,3],[23.6,2.5],[23.9,2.5],[22.8,2.9],[22.9,2],[25.1,2.5],[25.3,2.3],[25.5,1.9],[26.2,1.8],[26.4,2.5],[26.9,3.1],[27,3.2],[27.4,2.6],[28.6,3],[29.4,2.4],[30.1,2.9],[30.2,2.3],[30.6,2],[32.2,2.2],[32.4,2.4],[33.2,2.3],[34,2.4],[35.2,2.2],[35.3,2.3],[35.7,3.2],[35.8,2.6],[36.1,2.4],[36.6,1.7],[38.9,1.9],
	[23.1,1.4],[23.5,1.3],[24,1.2],[24.8,1.1],[24.7,0.4],[24.6,0.4],[23.2,0.5],[23.7,0.2],[24.2,0.1],[25.4,0.3],[26.4,0.9],[27.5,0.5],[27.6,0.3],[28.4,0.9],[28.3,0.1],[27.5,-0.1],[27.9,-0.3],[31.1,0.1],[32.4,0.3],[35.3,0.5],[35.5,0.2],[35.8,0.3],[36.6,0.3],[38.5,0.1],[39.3,0.1],[41.2,0.3],
	[22.5,-0.2],[22.8,-0.2],[23.2,-0.3],[23.6,-0.2],[24,-0.3],[24.2,0],[25.3,-0.2],[25.5,-0.4],[25,-0.8],[25.6,-0.9],[25.1,-1.1],[26.1,-1],[26.8,-0.9],[28.5,-0.8],[29.9,-0.9],[30.7,-1.2],[31.7,-0.9],[32.8,-0.9],[35.5,-0.6],[36.4,-0.9],[40.4,-0.8],[42.3,-0.5],
	[22.4,-0.7],[22.7,-1],[22.3,-1.4],[22.4,-1.7],[22.7,-2],[23,-1.9],[23.3,-2],[23.7,-2],[23.9,-1.9],[24.2,-1.5],[24.6,-1.4],[24.6,-1.8],[24.7,-2.2],[25,-2.3],[25.9,-1.3],[26.8,-2.3],[27.9,-1.4],[28.3,-1.6],[28.6,-1.5],[27.9,-2.3],[30.2,-1.7],[34.5,-1.7],[42.8,-2],[44.5,-2.3],[44.9,-2.6],[47.1,-2.9],
	[23.2,-2.5],[23.6,-2.8],[24,-3.2],[24.6,-3.4],[24.8,-3.6],[24.7,-3.9],[22.8,-3.5],[28.8,-2.8],[29,-3.2],[29.8,-3],[30,-2.7],[30.1,-3],[29.9,-3.3],[30.5,-3.2],[30.7,-3.5],[31.5,-3.7],[29.5,-4.1],[34.3,-3],[37.2,-3.6],[37,-4.3],[43.7,-4.4],[31.7,-4.8],
	[15.6,-5.6],[15.6,-5.9],[12.5,-5.4],[13.3,-5.4],[13.5,-5.5],[13.7,-5.4],[13.9,-5.4],[14,-5.2],[13.4,-5.7],[13.6,-5.9],[13.8,-5.6],[14.1,-5.5],[14.5,-4.5],[15,-4.6],[15.6,-8.7],[16,-8.7],[16.3,-8.5],[16.5,-9.1],[16.7,-9.4],[16.9,-9],[17.1,-9.3],[17.4,-9],[17.8,-8.7],[18.1,-8.4],[16.8,-8.6],[17,-9.9],[17.3,-10],[17.7,-10.3],[16.9,-10.4],[17.9,-10.7],[18.2,-10],[17.4,-11],[18.2,-9.1]
];

var tropDense = [
	[1.85,-3.8,-4.3,-4.9],[1.86,-1.5,-2.6,-3.4,-4.1,-5,-6,-6.6],[1.87,-1.7,-2.8,-3.6,-4.4,-5.3,-5.9,-6.8],[1.88,-1.3,-1.6,-2.2,-3.2,-4,-4.8,-6.6],[1.89,-3,-3.8,-4.6,-5],[1.9,-4.6,-4.2],[1.92,-2.8,-4.1,-4.8],[1.94,-3.2,-4.6,-5.2],[1.96,-4.8,-5.1,-3.8],
	[1.97,-6.2,-5.4,-4.4,-3.4,-2.2,-1.4,0.2,0.9],[1.98,-5.4,-4.6,-3.8,-3,-2.2,-0.8,0.6,1.4],[1.99,-6,-5,-4.2,-3.4,-2.4,-1.2,1.3,1.5],[2,-5.2,-4.4,-3.6,-2.8,-1.8,-0.4,0.4,1.4],[2.01,-5.6,-4.8,-4,-3.2,-2.4,-1.4,2.3],[2.02,-5.8,-5,-4.2,-3.4,-2.6,-1.8,-0.8,0.2,0.8],[2.03,-5.2,-4.4,-3.6,-2.8,-2,-1.2,-0.4,0.6,1],
	[2.04,-5.6,-4.8,-4,-3.2,-2.4,-1.6,-0.8,0,0.9],[2.05,-5.4,-4.6,-3.8,-3,-2.2,-1.4,-0.6,0.4],[2.06,-5.2,-4.4,-3.6,-2.8,-2,-1.2,-0.4,0.4],[2.07,-4.8,-4,-3.2,-2.4,-1.6,-0.8,0.4],[2.08,-4.6,-3.8,-3,-2.2,-1.4,-0.6,1.1],[2.09,-4.4,-3.6,-2.8,-2,-1.2,-0.5,0.8],[2.1,-4.2,-3.4,-2.6,-1.8,-1,-0.2,0.6],
	[2.11,-4,-3.2,-2.4,-1.6,-0.8,0],[2.12,-4.4,-3.6,-2.8,-2,-1.2,-0.4,0.9],[2.13,-3.8,-3,-2.2,-1.4,-0.6,0.8],[2.14,-5.6,-3.8,-3,-2.2,-1.4,-0.6,0.4],[2.15,-5.2,-4.4,-3.6,-2.8,-2,-1.2,-0.4,0.6],[2.16,-6,-5.2,-4.4,-3.6,-2.8,-2,-1.2,-0.4],[2.17,-5.8,-5,-4.2,-3.4,-2.6,-1.8,-1,-0.2],
	[2.18,-5.6,-4.8,-4,-3.2,-2.4,-1.6,-0.8,0.9],[2.19,-5.4,-4.6,-3.8,-3,-2.2,-1.4,-0.6,0.6],[2.2,-6.6,-5.8,-5,-4.2,-3.4,-2.6,-1.8,-1],[2.21,-7,-6,-5.2,-4.4,-3.6,-2.8,-2,-1.2,1.3],[2.22,-6.6,-5.6,-4.8,-4,-3.2,-2.4,-1.6,1.5],[2.23,-7.2,-6,-5.2,-4.4,-3.6,-2.8,-2,-1.2,0.8],[2.24,-7.8,-6.6,-5.4,-4.6,-3.8,-3,-2.2,-1.4,2.8],
	[2.25,-5.6,-4.8,-4,-3.2,-2.4,-1.6,2.7],[2.26,-6,-5,-4.2,-3.4,-2.6,-1.8,0.4],[2.27,-5.4,-4.4,-3.4,-2.4,-1.4,-0.4,0.6,1.6,2],[2.28,-6.4,-5.4,-4.4,-3.4,-2.4,-1.4,-0.4,0.6,1.6,2.6,3.4,4.2,5],[2.29,-7,-5.6,-4.6,-3.6,-2.6,-1.6,-0.6,0.4,1.4,2.4,3.4],[2.3,-5,-4,-3,-2,-1,0,1,2,3.6],
	[2.31,-6,-4.8,-3.8,-2.8,-1.8,-0.8,0.2,1.2,2.2,3],[2.32,-6.6,-5.4,-4.2,-3.2,-2.2,-1.2,-0.2,0.8,1.8,2.6],[2.33,-7.2,-6,-4.6,-3.6,-2.6,-1.6,-0.6,0.4,1.4,2.4],[2.34,-8.6,-7.2,-6,-4.8,-3.8,-2.8,-1.8,-0.8,0.2,1.2,2.2,3.8],[2.35,-8.4,-7,-5.6,-4.4,-3.4,-2.4,-1.4,-0.4,0.6,1.6,2.6],[2.36,-6.4,-5.2,-4,-3,-2,-1,0,1,2],
	[2.37,-5,-3.6,-2.4,-1.4,-0.4,0.6,1.6,2.6,3.6,4],[2.38,-2.6,-1.2,0,1,2,3,4,5,6,7.4],[2.39,0,1,1.8,2.8,3.8,4.8,5.8,6.8,8,9.2,10.5,11.8,13],[2.4,-0.4,1.4,2.4,3.4,4.4,5.4,6.4,7.4,8.4,9.4,11.8,16,16.4],[2.41,-2.4,0.6,1.6,2.6,3.6,4.6,5.6,6.6,7.6,9.6,13.4,15.8],[2.42,-2.6,0.2,1.2,2.2,3.2,4.2,5.2,6.2,8.4,9.8,12.6,14,17.4],
	[2.43,-1,0,1,2,3,4,5.2,9.4,11.6,13.2,14.2,18],[2.44,-2.4,-1.2,0,1,2,3,4.2,6.2,8.2,11.8,13,14.6,16.6,17.2],[2.45,-1,0.2,1.2,2.2,3.2,4.4,5.6,6.4,9.6,11.2,13.4,14.2,16.2],[2.46,-3,-0.6,0.6,1.6,2.6,3.6,4.6,5.6,9.2,11,13.2,14,15.8],[2.47,-1.2,0,1,2,3,4.4,8,10.2,12.4,14.6,16.2],[2.48,-1.8,-0.6,0.4,1.4,2.4,3.6,5,8.4,11.2,14.4],[2.49,-3,-1.2,-0.2,0.8,2,4,7,9.8,12],[2.5,-2.6,-1.4,-0.6,0.4,2,3.8,5.6,8.6,10.6],
	[2.51,-3.6,-2.2,-1.2,0,1.6,4,5.8,8,10.4,12.6],[2.52,-2.4,-1.4,1.4,3.4,5,6.4,8.6,11,14.4],[2.53,-4.6,-1.8,-0.6,0.8,2.4,4.4,6.6,8.8,11.8,15.3],[2.54,-3.8,-1.6,-0.6,1,3,5.6,7.6,9.4,12.4,14.6],[2.55,-5.6,-2.4,-1,0.4,1.8,3.6,5.6,7.4,9.6,11.8,13.8],[2.56,-4.4,-2.6,-1,0.2,1.4,3,5.4,8,10.4,11.8,14.2,18.3],[2.57,-5,-2,-0.8,0.4,1.6,2.8,4.6,6.8,9,11.4,13.4,15.8],
	[2.58,-3.6,-1.8,-0.6,0.6,1.8,3,5,7.2,9.6,12,14.4,16.2,18.4,21,22],[2.59,-4.6,-2.6,-0.4,0.8,2,3.2,4.8,6.6,8.8,11,13,15,16.6,18,19.4,21.4],[2.6,-2.8,-1,0.2,1.4,2.6,4,6,8.4,10.6,12.4,14.4,16,17.2,18.6,19.8,21.8],[2.61,-3,-1.8,-0.6,0.6,1.8,3,4.2,5.4,7,9,11,13,15,17.8,19],
	[2.62,-4,-2.4,-1,0.2,1.4,2.6,3.8,5,6.2,7.6,9.6,11.4,12.8,15.4],[2.63,-3.2,-2,-0.8,0.4,1.6,2.8,4,5.2,6.4,7.6,9,10.6,12,15.8,19.2],[2.64,-4,-2.6,-1.2,0,1.2,2.4,3.6,4.8,6,7.2,8.4,9.6,11,13,14.6,16],[2.65,-4,-2.4,-1,0.2,1.4,2.6,3.8,5,6.2,7.4,8.6,9.8,11,12.4,13.6,14.8,18.8],[2.66,-3.4,-2,-0.6,0.6,1.8,3,4.2,5.4,6.6,7.8,9.2,11,12.2,13.4,14.6,16,19],
	[2.67,-4.2,-2.6,-1.2,0,1.2,2.4,3.6,4.8,6,7.4,8.8,10.8,12,13.2,14.4,15.6,17],[2.68,-3.6,-2,-0.6,0.6,1.8,3,4.2,5.4,6.8,8.2,9.4,10.6,11.8,13,14.2,15.4,16],[2.69,-5.2,-2,-0.6,0.6,1.8,3,4.2,5.4,6.6,7.8,9,10.2,11.4,12.6,13.8,15.4,17.2],[2.7,-2.4,-0.8,0.4,1.6,2.8,4,5.2,6.4,7.6,8.8,10,11.2,12.4],[2.71,-4.6,-3,-1.4,0,1.2,2.4,3.6,4.8,6,7.2,8.4,9.6,11,12.8,13.6],[2.72,-8.4,-6.8,-5,-3.4,-2,-0.6,0.8,2,3.2,4.4,5.6,6.8,8,9.2,10.4,11.4],
	[2.73,-9.6,-8,-6.6,-5,-3.6,-2.2,-0.8,0.6,1.8,3,4.2,5.4,6.6,7.8,9,11],[2.74,-10.6,-9,-7.4,-6,-4.6,-3.2,-1.8,-0.4,1,2.2,3.4,4.6,5.8,7,8],[2.75,-11.6,-10,-8.6,-7.2,-5.8,-4.4,-3,-1.6,-0.2,1.2,2.4,3.6,5],[2.76,-12,-10.4,-9,-7.6,-6.2,-4.8,-3.4,-2,-0.6,0.8,1.8,2.6],[2.77,-13,-11,-9.4,-8,-6.6,-5.2,-3.8,-2.4,-1.2,1.8],[2.78,-12.6,-10.6,-9,-7.4,-6,-4.6,-3.2,-1.8,-0.8,1.6],
	[2.79,-13.2,-11.4,-9.6,-8,-6.6,-5.2,-3.8,-2.6,-1.4,2.2],[2.8,-14.6,-12.6,-11,-9.4,-7.8,-6.4,-5,-3.8,-2.4,-1.2,2.8],[2.81,-15.4,-13.4,-11.4,-9.4,-7.6,-6,-4.6,-3.2,-1.8],[2.82,-14.6,-12.8,-10.8,-9,-7.4,-6,-4.6,-3.4,-2.4],[2.83,-13,-9.2,-8,-6.8,-5.6,-4.4,-3.2],[2.84,-9.4,-8.4,-7.2,-6,-4.8,-3.8],[2.85,-8.4,-7.4,-6.4,-5.2,-4.2],[2.86,-8.8,-7.6,-6.6,-5.6,-4.6],[2.87,-9.4,-8.4,-7.4,-6.6],[2.88,-9.6,-8.6,-7.6],[2.89,-9,-8,-7.4]
];
var tropFill = [
	[1.855,-3.2,-4.6,-5.6],[1.865,-2.2,-3.8,-4.6,-6.4],[1.875,-1.5,-2.4,-3.5,-4.5],[2.005,-4.9,-4,-3.2],[2.015,-5.1,-4.3,-3.5,-2.8,-1.9],[2.025,-5.3,-4.6,-3.9,-3,-2.2,-1.4,-0.5,0.6],[2.035,-4.9,-4.1,-3.3,-2.5,-1.8,-1,-0.1],[2.045,-5.1,-4.3,-3.5,-2.7,-1.9,-1.2,-0.3],[2.055,-4.8,-4,-3.3,-2.5,-1.7,-0.9],[2.065,-4.9,-4.1,-3.1,-2.4,-1.6,-0.8],[2.075,-4.4,-3.6,-2.7,-1.9,-1.2],[2.085,-4.2,-3.3,-2.6,-1.8,-1],[2.095,-4,-3.2,-2.4,-1.6,-0.8],[2.105,-3.8,-3,-2.2,-1.4,-0.5],[2.115,-3.6,-2.8,-2.1,-1.2,-0.3],[2.125,-3.9,-3.1,-2.3,-1.5,-0.7],[2.135,-3.5,-2.6,-1.8,-1,-0.2],[2.145,-4.2,-3.3,-2.5,-1.7,-0.9,0.1],[2.155,-4.8,-4,-3.2,-2.4,-1.6,-0.8],[2.165,-5.6,-4.8,-4,-3.2,-2.4,-1.6,-0.7],[2.175,-5.2,-4.5,-3.7,-2.9,-2.1,-1.3,-0.5],[2.185,-5.1,-4.3,-3.5,-2.7,-1.9,-1.1],
	[2.195,-5.4,-4.2,-3.4,-2.6,-1.8,-1],[2.205,-6.2,-5.5,-4.7,-3.9,-3.1,-2.3,-1.5],[2.215,-6.5,-5.6,-4.6,-3.8,-3,-2.2,-1.4],[2.225,-6.4,-5.4,-4.5,-3.7,-3,-2.2,-1.5],[2.235,-6.8,-5.8,-4.9,-4,-3.2,-2.4,-1.7],[2.245,-6.2,-5,-4.2,-3.4,-2.6,-1.8],[2.255,-5.3,-4.5,-3.7,-2.8,-2.1],[2.265,-5.6,-4.6,-3.8,-3,-2.2,-0.6],[2.285,-5.9,-4.9,-3.9,-2.9,-1.9,-0.9,0.1,1.1,2.1,3],[2.305,-5.4,-4.4,-3.5,-2.4,-1.4,-0.4,0.6,1.6,2.6],[2.325,-6.2,-4.8,-3.7,-2.7,-1.7,-0.7,0.3,1.3,2.2],[2.345,-7.8,-6.4,-5.2,-4.2,-3.2,-2.1,-1.1,0,1,1.9],[2.365,-5.8,-4.6,-3.4,-2.5,-1.5,-0.5,0.5,1.5,2.5,3.3],[2.385,-1.6,-0.2,1.2,2.4,3.4,4.4,5.4,6.4,7.6],[2.395,0.6,1.5,2.4,3.4,4.3,5.3,6.3,7.3],[2.405,1.1,2,2.9,3.9,4.9,5.9,6.9,7.9],[2.415,1,1.9,2.9,3.9,4.9,5.9,6.9],[2.425,0.6,1.6,2.6,3.5,4.5,5.5],[2.435,0,1.4,2.4,3.4,4.4],[2.445,0.4,1.4,2.4,3.4,4.4,5.4],[2.455,-0.2,0.9,1.9,2.9,4,5],[2.465,-0.9,0.4,1.4,2.4,3.4],[2.475,-1.5,-0.4,0.6,1.6,2.5],[2.485,-2,-0.9,0.1,1],
	[2.495,-2.1,-1,-0.1],[2.505,-2.8,-1.7,-0.6],[2.545,-3.1,-2,-0.9],[2.555,-2.9,-1.8,-0.6],[2.565,-3.4,-2.2,-1.3,0],[2.575,-2.7,-1.4,-0.2,1],[2.595,-3.4,-1.4,0,1.3,2.5],[2.605,-2.2,-0.9,0.3,1.6,3],[2.615,-2.4,-1.2,0,1.2,2.4,3.6,4.8,6.2],[2.625,-3.6,-2.2,-0.9,0.3,1.5,2.7,3.9,5.1,6.3,7.5],[2.635,-2.8,-1.5,-0.3,0.9,2.1,3.3,4.5,5.7,6.9,8.1,9.4,12.6,14],[2.645,-3.6,-2,-0.7,0.5,1.7,2.9,4.1,5.3,6.5,7.7,8.9,10.2,11.6,12.8,14],[2.655,-3.1,-1.7,-0.3,0.9,2.1,3.3,4.5,5.7,6.9,8.1,9.3,10.5,11.7,12.9,14.2,15.3],[2.665,-3.8,-2.3,-0.9,0.3,1.5,2.7,3.9,5.1,6.3,7.5,8.9,11.4,12.6,13.8,15,16.2],[2.675,-3.2,-1.7,-0.3,0.9,2.1,3.3,4.5,5.7,6.9,8.1,9.4,11.2,12.4,13.6,14.8],[2.685,-1.4,0,1.2,2.4,3.6,4.8,6,7.2,8.4,9.7,10.9,12.1,13.3,14.5],[2.695,-2,-0.3,1,2.2,3.4,4.6,5.8,7,8.2,9.5,10.7,11.9,13.2],[2.705,-2.7,-1,0.2,1.4,2.6,3.8,5,6.2,7.4,8.6,9.8,11,12],[2.715,-5.5,-3.8,-2.4,-1,0.4,1.6,2.8,4,5.2,6.4,7.6,8.8,10,11.2],[2.725,-8.8,-7.3,-5.7,-4.2,-2.8,-1.4,0,1.3,2.5,3.7,4.9,6.1,7.3,8.5,9.7],
	[2.735,-10,-8.5,-7,-5.5,-4.1,-2.7,-1.3,0.2,1.5,2.7,3.9,5.1,6.3,7.4],[2.745,-11,-9.5,-8,-6.5,-5.1,-3.7,-2.3,-0.9,0.6,1.8,3,4.2],[2.755,-11.8,-10.3,-8.8,-7.4,-6,-4.6,-3.2,-1.8,-0.4,1],[2.765,-12.4,-10.8,-9.2,-7.8,-6.4,-5,-3.6,-2.2,-0.9],[2.775,-11.8,-10,-8.4,-7,-5.6,-4.2,-2.9,-1.6],[2.785,-13,-11,-9.3,-7.7,-6.3,-4.9,-3.5,-2.2,-1.1],[2.795,-14,-12,-10.3,-8.7,-7.2,-5.8,-4.4,-3.2,-1.9],[2.805,-16.6,-15,-13,-11.2,-9.4,-7.7,-6.2,-4.8,-3.5,-2.1],[2.815,-16.2,-14.2,-12.2,-10.2,-8.4,-6.8,-5.4,-4,-2.7],[2.825,-9.6,-8.6,-7.6,-6.4,-5.2,-4,-2.9],[2.835,-8.8,-7.8,-6.6,-5.4,-4.2,-3.4],[2.845,-9,-8,-6.9,-5.6,-4.6],[2.855,-8.6,-7.6,-6.7,-5.8,-4.9],[2.865,-9.2,-8.2,-7.1,-6.2,-5.4],[2.875,-9.4,-8.4,-7.4],[2.885,-9.2,-8.2,-7.6]
];
var tropSparse = [
	[2.575,24.3],[2.585,23.2],[2.6,23.3],[2.59,22.5],[2.612,22.8],[2.59,21.5],[2.58,20.5],[2.6,20.8],[2.605,19.8],[2.57,19.6],[1.87,-9.8],[1.945,-8.8],[1.95,-8.7],[1.94,-10.6],[1.96,-10.2],[1.97,-9.8],[1.975,-9.8],[1.945,-11.8],[1.955,-11.8],[1.965,-11.9],[1.94,-16.2],[1.95,-17],
	[2.015,-8.2],[2.02,-9.9],[2.025,-10.8],[2.03,-9],[2.04,-9],[2.04,-7],[2.05,-7.6],[2.06,-8],[2.07,-6.6],[2.075,-10.4],[2.085,-10.5],[2.09,-7.8],[2.1,-7.4],[2.1,-8.5],[2.11,-10.8],[2.11,-8],[2.15,-9],[2.16,-9],[2.165,-14.6],[2.18,-12.8],[2.195,-9.9],[2.2,-7.8],[2.2,-14.2],[2.21,-11.3],[2.21,-14.9],[2.22,-11.7],[2.225,-8.4],[2.23,-16.2],[2.235,-16],[2.23,-14],[2.235,-12.6],[2.24,-10],[2.24,-8.8],[2.28,-14.6],[2.285,-15.1],[2.305,-10.3],[2.315,-18],[2.345,-12],[2.335,-9],[2.335,-8.4],[2.31,-7.4],
	[2.36,-8.2],[2.45,-2.8],[2.45,-4.2],[2.445,-5.4],[2.45,-5.8],[2.46,-3.6],[2.46,-8.8],[2.47,-7],[2.48,-6.4],[2.47,-9.4],[2.475,-9.8],[2.49,-5],[2.5,-5],[2.505,-8.6],[2.515,-8.6],[2.52,-5.8],[2.54,-5.6],[2.55,-9.2],[2.56,-9.7],[2.57,-9.9],[2.575,-11.6],[2.58,-7.6],[2.59,-8.2],[2.6,-8.2],[2.59,-14.4],[2.6,-13.7],[2.615,-13.8],[2.62,-15.7],[2.63,-7.6],[2.64,-7.2],[2.64,-10.4],[2.65,-9.4],[2.66,-10.2],[2.67,-10.8],[2.67,-12],[2.68,-8],[2.69,-9.4],[2.7,-5.2],[2.72,-7],[2.66,-6],
	[2.73,-13.2],[2.725,-14.5],[2.735,-14.2],[2.75,-14.2],[2.755,-15.4],[2.77,-15.2],[2.77,-16.2],[2.775,-17.4],[2.78,-18.4],[2.79,-18.2],[2.8,-19.4],[2.78,-20.2],[2.785,-21],[2.725,-19.2],[2.79,-22],[2.78,-23],[2.8,-23.2],[2.81,-22.8],[2.81,-21.6],[2.82,-21],[2.83,-22.3],[2.84,-22.6],[2.85,-23.2],[2.855,-23.8],[2.86,-22],[2.87,-21.4],[2.875,-23],[2.88,-23.2],[2.885,-22.4],[2.89,-21.2],[2.84,-24.1],[2.83,-25],[2.775,-25.2],[2.77,-26],[2.785,-27.5],[2.87,-26.4],[2.86,-28.4],[2.88,-29.3],[2.82,-19.4],[2.81,-20],[2.82,-17.2],[2.83,-18.4],[2.85,-13.4],[2.86,-14],[2.875,-13.2],[2.87,-16],[2.875,-17.4],[2.87,-20.2],[2.88,-20.4],[2.9,-20.2],[2.915,-22],[2.93,-20.2],[2.895,-19],[2.895,-18.4],[2.9,-16.4],[2.9,-17.4],[2.92,-17.4],[2.92,-14],[2.905,-15],[2.88,-14.4],[2.88,-12.8],[2.89,-11.4],[2.9,-10.8],[2.91,-11.2],[2.915,-12.6],[2.925,-11],[2.93,-12.8],[2.93,-14],[2.925,-13.5],
	[2.945,-13],[2.945,-13.6],[2.94,-14.3],[2.938,-9.8],[2.915,-10.4],[2.91,-9.2],[2.9,-8],[2.905,-7.6],[2.92,-7.6],[2.93,-6.4],[2.94,-5.8],[2.94,-4.4],[2.935,-3.6],[2.94,-2.7],[2.93,-1.6],[2.905,-1.8],[2.915,-1.6],[2.895,0.2],[2.9,-0.4],[2.9,-3],[2.91,-2.8],[2.92,-3.4],[2.91,-4.6],[2.93,-5],[2.92,-6],[2.905,-5],[2.9,-6.2],[2.89,-3.2],[2.915,-4.2],[2.88,-11],[2.84,-11.4]
];

// axes, all from the picture's own ticks
var pm25Ticks = [8, 9, 10, 11, 12];
var pm25ShapTicks = [-20, -10, 0, 10, 20, 30];
var pm10Ticks = [10, 12, 14, 16, 18];
var pm10ShapTicks = [-30, -20, -10, 0, 10, 20, 30];
var no2Ticks = [10, 15, 20, 25, 30, 35, 40, 45];
var no2ShapTicks = [-10, -5, 0, 5, 10, 15, 20];
var tropTicks = [1.8, 2.0, 2.2, 2.4, 2.6, 2.8, 3.0];
var tropShapTicks = [-30, -20, -10, 0, 10, 20];

var svg = d3.select("#chart");

function flatten(rows, sparse) {
	var pts = [];
	rows.forEach(function(row) {
		for (var i = 1; i < row.length; i++) pts.push([row[0], row[i]]);
	});
	return pts.concat(sparse);
}

function drawPanel(p) {
	var x = d3.scaleLinear().domain(p.xDomain).range([p.left, p.right]);
	var y = d3.scaleLinear().domain(p.yDomain).range([p.bottom, p.top]);
	var fmt = function(d) { return d3.format(p.xFormat || "d")(d); };

	svg.append("g").selectAll("circle")
		.data(flatten(p.dense, p.sparse))
		.enter().append("circle")
		.attr("cx", function(d) { return x(d[0]); })
		.attr("cy", function(d) { return y(d[1]); })
		.attr("r", 5.2)
		.attr("fill", "#1e88e5")
		.attr("fill-opacity", 0.45);

	var xAxis = svg.append("g")
		.attr("transform", "translate(0," + p.bottom + ")")
		.call(d3.axisBottom(x).tickValues(p.xTicks).tickFormat(fmt).tickSizeInner(7).tickSizeOuter(0).tickPadding(9));
	var yAxis = svg.append("g")
		.attr("transform", "translate(" + p.left + ",0)")
		.call(d3.axisLeft(y).tickValues(p.yTicks).tickFormat(function(d) { return d < 0 ? "\u2212" + Math.abs(d) : d; }).tickSizeInner(7).tickSizeOuter(0).tickPadding(8));

	[xAxis, yAxis].forEach(function(a) {
		a.selectAll("path,line").attr("stroke", "#444").attr("stroke-width", 1.8);
		a.selectAll("text").attr("font-size", 24).attr("font-family", "Liberation Sans").attr("fill", "#333");
	});

	svg.append("text").attr("x", p.xLabelX).attr("y", p.xLabelY).attr("text-anchor", "middle").attr("font-size", 29).text(p.xLabel);

	p.yLabel.forEach(function(line, i) {
		svg.append("text")
			.attr("transform", "translate(" + p.yLabelX[i] + "," + p.yLabelY + ") rotate(-90)")
			.attr("text-anchor", "middle").attr("font-size", 30).text(line);
	});

	svg.append("text").attr("x", p.tagX).attr("y", p.tagY).attr("font-size", 30).attr("font-weight", "bold").style("fill", "#000").text(p.tag);
}

drawPanel({
	tag: "A", tagX: 6, tagY: 30, dense: pm25Dense.concat(pm25Fill), sparse: pm25Sparse,
	left: 138, right: 912, top: 33, bottom: 674, xDomain: [7.695, 12.21], yDomain: [-27.3, 38.5],
	xTicks: pm25Ticks, yTicks: pm25ShapTicks, xLabel: "PM25", xLabelX: 525, xLabelY: 745,
	yLabel: ["SHAP value for", "PM25"], yLabelX: [31, 67], yLabelY: 355
});
drawPanel({
	tag: "B", tagX: 991, tagY: 30, dense: pm10Dense.concat(pm10Fill), sparse: pm10Sparse,
	left: 1118, right: 1883, top: 52, bottom: 686, xDomain: [9.75, 19.93], yDomain: [-31.9, 30.3],
	xTicks: pm10Ticks, yTicks: pm10ShapTicks, xLabel: "PM10", xLabelX: 1500, xLabelY: 755,
	yLabel: ["SHAP value for", "PM10"], yLabelX: [1012, 1047], yLabelY: 370
});
drawPanel({
	tag: "C", tagX: 6, tagY: 789, dense: no2Dense.concat(no2Fill, no2Lower), sparse: no2Sparse,
	left: 137, right: 902, top: 800, bottom: 1433, xDomain: [8.24, 49], yDomain: [-12.4, 20.2],
	xTicks: no2Ticks, yTicks: no2ShapTicks, xLabel: "NO2", xLabelX: 519, xLabelY: 1505,
	yLabel: ["SHAP value for", "NO2"], yLabelX: [31, 67], yLabelY: 1117
});
drawPanel({
	tag: "D", tagX: 991, tagY: 789, dense: tropDense.concat(tropFill), sparse: tropSparse,
	left: 1118, right: 1877, top: 835.5, bottom: 1475, xDomain: [1.792, 3], yDomain: [-32, 27.1],
	xTicks: tropTicks, yTicks: tropShapTicks, xFormat: ".1f", xLabel: "Tropospheric NO2", xLabelX: 1497, xLabelY: 1547,
	yLabel: ["SHAP value for", "Tropospheric NO2"], yLabelX: [1012, 1046], yLabelY: 1157
});
</script>
</body>
</html>
